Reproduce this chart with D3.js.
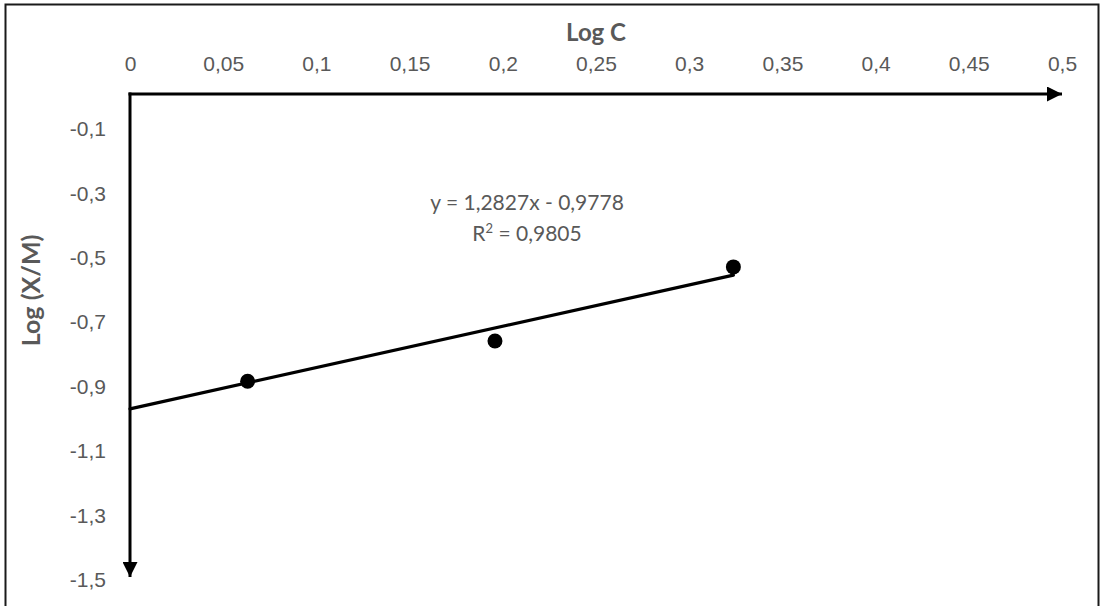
<!DOCTYPE html>
<html>
<head>
<meta charset="utf-8">
<script src="https://cdn.jsdelivr.net/npm/d3@7"></script>
<style>
  html, body { margin: 0; padding: 0; background: #fff; }
  svg { display: block; font-family: Lato, "Open Sans", sans-serif; }
  .tick text { fill: #595959; font-size: 21px; }
</style>
</head>
<body>
<svg id="chart" width="1103" height="606"></svg>
<script>
// ---- data ----
const logC   = [0.0631, 0.1958, 0.3237];
const logXM  = [-0.892, -0.767, -0.537];
const xTicks = [0, 0.05, 0.1, 0.15, 0.2, 0.25, 0.3, 0.35, 0.4, 0.45, 0.5];
const yTicks = [-0.1, -0.3, -0.5, -0.7, -0.9, -1.1, -1.3, -1.5];
const slope = 1.2827, intercept = -0.9778, r2 = 0.9805;

const loc = d3.formatLocale({decimal: ',', thousands: '.', grouping: [3], currency: ['', ''], minus: '-'});
const fmt = d => loc.format('')(+d.toFixed(4));

const svg = d3.select('#chart');

// frame
svg.append('rect').attr('x', 5.5).attr('y', 4.5).attr('width', 1093).attr('height', 620)
  .attr('fill', 'none').attr('stroke', '#1a1a1a').attr('stroke-width', 2);

const x = d3.scaleLinear().domain([0, 0.5]).range([130, 1062]);
const y = d3.scaleLinear().domain([0, -1.5]).range([94, 577]);

// arrow markers
const defs = svg.append('defs');
defs.append('marker').attr('id', 'arr').attr('viewBox', '0 0 10 10')
  .attr('refX', 10).attr('refY', 5).attr('markerWidth', 5).attr('markerHeight', 5)
  .attr('markerUnits', 'strokeWidth').attr('orient', 'auto')
  .append('path').attr('d', 'M0,0L10,5L0,10Z').attr('fill', '#000');

// axes labels (ticks hidden)
const xAxis = svg.append('g').attr('transform', `translate(0,${y(0)})`)
  .call(d3.axisTop(x).tickValues(xTicks).tickFormat(fmt).tickSize(0).tickPadding(23));
xAxis.select('.domain').remove();

const yAxis = svg.append('g').attr('transform', `translate(${x(0)},0)`)
  .call(d3.axisLeft(y).tickValues(yTicks).tickFormat(fmt).tickSize(0).tickPadding(24));
yAxis.select('.domain').remove();
yAxis.selectAll('.tick text').attr('dy', '0.45em');

// axis lines with arrows
svg.append('line').attr('x1', x(0) - 1.5).attr('x2', x(0.5)).attr('y1', y(0)).attr('y2', y(0))
  .attr('stroke', '#000').attr('stroke-width', 3).attr('marker-end', 'url(#arr)');
svg.append('line').attr('x1', x(0)).attr('x2', x(0)).attr('y1', y(0) - 1.5).attr('y2', y(-1.5))
  .attr('stroke', '#000').attr('stroke-width', 3).attr('marker-end', 'url(#arr)');

// titles
svg.append('text').attr('x', (x(0) + x(0.5)) / 2).attr('y', 41)
  .attr('text-anchor', 'middle').attr('font-weight', 'bold').attr('font-size', 24)
  .attr('fill', '#595959').text('Log C');
svg.append('text').attr('transform', `translate(40,${y(-0.61)}) rotate(-90)`)
  .attr('text-anchor', 'middle').attr('font-weight', 'bold').attr('font-size', 25)
  .attr('fill', '#595959').text('Log (X/M)');

// trendline
const xEnd = d3.max(logC);
svg.append('line')
  .attr('x1', x(0)).attr('y1', y(intercept))
  .attr('x2', x(xEnd)).attr('y2', y(slope * xEnd + intercept))
  .attr('stroke', '#000').attr('stroke-width', 3.2).attr('stroke-linecap', 'round');

// points
svg.append('g').selectAll('circle').data(logC.map((v, i) => [v, logXM[i]])).join('circle')
  .attr('cx', d => x(d[0])).attr('cy', d => y(d[1])).attr('r', 7.5).attr('fill', '#000');

// equation label
const eq = svg.append('text').attr('text-anchor', 'middle').attr('fill', '#595959').attr('font-size', 21);
eq.append('tspan').attr('x', x(0.213)).attr('y', y(-0.36))
  .text(`y = ${fmt(slope)}x - ${fmt(-intercept)}`);
const t2 = eq.append('tspan').attr('x', x(0.213)).attr('y', y(-0.455));
t2.append('tspan').text('R');
t2.append('tspan').attr('dy', -8).attr('font-size', 13).text('2');
t2.append('tspan').attr('dy', 8).text(` = ${fmt(r2)}`);
</script>
</body>
</html>
